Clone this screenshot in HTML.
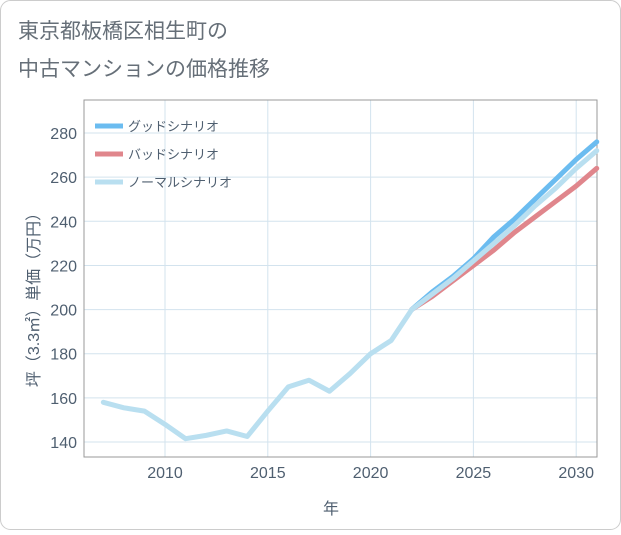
<!DOCTYPE html>
<html><head><meta charset="utf-8"><style>
body{margin:0;background:#fff;font-family:"Liberation Sans","Noto Sans CJK JP",sans-serif;}
</style></head><body>
<svg width="621" height="530" xmlns="http://www.w3.org/2000/svg" font-family="Liberation Sans, Noto Sans CJK JP, sans-serif">
<rect x="0.5" y="0.5" width="620" height="529" rx="10" fill="#fff" stroke="#ccc"/>
<text x="18" y="38" font-size="21" fill="#666f78">東京都板橋区相生町の</text>
<text x="18" y="76" font-size="21" fill="#666f78">中古マンションの価格推移</text>
<g id="plot"></g>
</svg>
<script>
const years=[2007,2008,2009,2010,2011,2012,2013,2014,2015,2016,2017,2018,2019,2020,2021,2022,2023,2024,2025,2026,2027,2028,2029,2030,2031];
const normal=[158,155.5,154,148,141.5,143,145,142.5,154,165,168,163,171,180,186,200,207,214,222,230,238,247,255,264,272];
const fYears=[2022,2023,2024,2025,2026,2027,2028,2029,2030,2031];
const good=[200,208,215,223,233,241,250,259,268,276];
const bad=[200,206,213,220,227,235,242,249,256,264];
const xTicks=[2010,2015,2020,2025,2030];
const yTicks=[140,160,180,200,220,240,260,280];
const L=84,R=597,T=100,B=457;
const x=v=>165+(v-2010)*20.56;
const y=v=>442-(v-140)*2.207;
const NS='http://www.w3.org/2000/svg';
const TC='#4f5f70';
const g=document.getElementById('plot');
function mk(t,a){const e=document.createElementNS(NS,t);for(const k in a)e.setAttribute(k,a[k]);g.appendChild(e);return e;}
xTicks.forEach(v=>{const l=mk('line',{x1:x(v),x2:x(v),y1:T,y2:B,stroke:'#d3e3ee'});


const t=mk('text',{x:x(v),y:478,'font-size':16,fill:TC,'text-anchor':'middle'});t.textContent=v;

});
yTicks.forEach(v=>{const l=mk('line',{x1:L,x2:R,y1:y(v),y2:y(v),stroke:'#d3e3ee'});


const t=mk('text',{x:77,y:y(v)+6,'font-size':16,fill:TC,'text-anchor':'end'});t.textContent=v;

});
const fr=mk('rect',{x:L,y:T,width:R-L,height:B-T,fill:'none',stroke:'#999'});


function line(xs,ys,c,n){const p=mk('polyline',{points:xs.map((v,i)=>x(v)+','+y(ys[i])).join(' '),fill:'none',stroke:c,'stroke-width':5,'stroke-linejoin':'round','stroke-linecap':'round'});

}
line(fYears,good,'#6bbcf0','good-scenario-line');
line(fYears,bad,'#e0868c','bad-scenario-line');
line(years,normal,'#b9dff0','normal-scenario-line');
const leg=[['グッドシナリオ','#6bbcf0'],['バッドシナリオ','#e0868c'],['ノーマルシナリオ','#b9dff0']];
leg.forEach((d,i)=>{const yy=126+i*28;const l=mk('line',{x1:95,x2:123,y1:yy,y2:yy,stroke:d[1],'stroke-width':5});


const t=mk('text',{x:128,y:yy+5,'font-size':13,fill:TC});t.textContent=d[0];

});
const xt=mk('text',{x:331,y:514,'font-size':16,fill:TC,'text-anchor':'middle'});xt.textContent='年';


const yt=mk('text',{x:0,y:0,'font-size':16,fill:TC,'text-anchor':'middle',transform:'translate(39,296) rotate(-90)'});yt.textContent='坪（3.3㎡）単価（万円）';


</script>
</body></html>
